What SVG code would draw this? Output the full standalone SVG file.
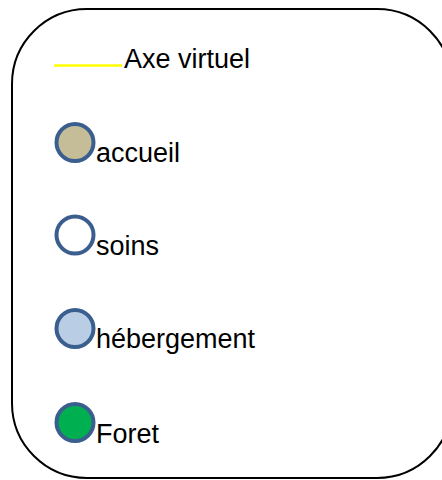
<svg xmlns="http://www.w3.org/2000/svg" width="442" height="480" viewBox="0 0 442 480">
<style>
.lbl{font-family:"Liberation Sans",Arial,sans-serif;font-size:27px;fill:#000}
.dot{stroke:#3A5F8F;stroke-width:4}
</style>
<rect width="442" height="480" fill="#fff"/>
<g id="frame"><rect x="12" y="9" width="440" height="469" rx="75" ry="75" fill="none" stroke="#000" stroke-width="2"/></g>
<g id="legend-axe">
<line x1="54" y1="65.5" x2="122" y2="65.5" stroke="#FFFF00" stroke-width="2.5"/>
<text class="lbl" x="124" y="68">Axe virtuel</text>
</g>
<g id="legend-accueil">
<circle class="dot" cx="75" cy="142.5" r="18.5" fill="#C4BD97"/>
<text class="lbl" x="96" y="162">accueil</text>
</g>
<g id="legend-soins">
<circle class="dot" cx="75" cy="235" r="18.5" fill="#fff"/>
<text class="lbl" x="96" y="255">soins</text>
</g>
<g id="legend-hebergement">
<circle class="dot" cx="75" cy="328.5" r="18.5" fill="#B9CDE5"/>
<text class="lbl" x="96" y="348">hébergement</text>
</g>
<g id="legend-foret">
<circle class="dot" cx="75" cy="422.5" r="18.5" fill="#00B050"/>
<text class="lbl" x="96" y="443">Foret</text>
</g>
<g id="connectors"></g>
</svg>
